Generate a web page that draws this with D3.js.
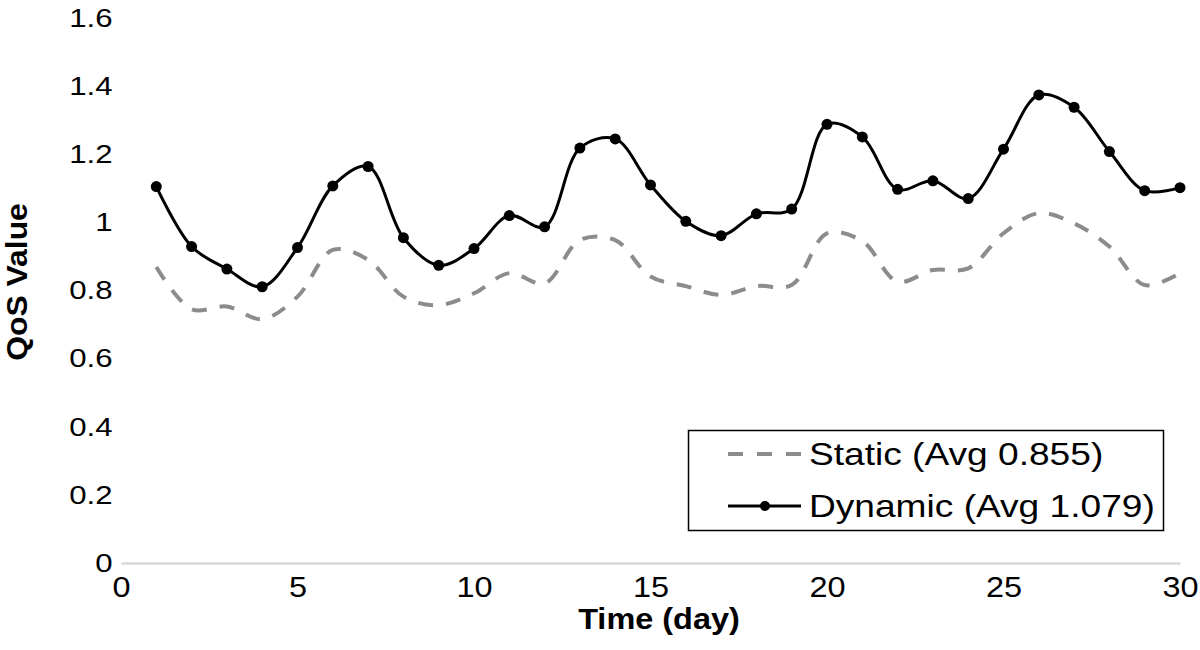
<!DOCTYPE html>
<html><head><meta charset="utf-8">
<script src="https://cdn.jsdelivr.net/npm/d3@7"></script>
<style>body{margin:0;background:#fff}svg{display:block}</style>
</head><body>
<svg id="c" width="1200" height="650"></svg>
<script>
const days = d3.range(1, 31);
const staticVals = [0.869,0.745,0.753,0.716,0.782,0.919,0.890,0.782,0.757,0.792,
  0.851,0.821,0.948,0.948,0.841,0.813,0.787,0.813,0.816,0.968,
  0.945,0.826,0.860,0.865,0.968,1.027,0.997,0.929,0.816,0.851];
const dynamicVals = [1.105,0.929,0.863,0.811,0.926,1.107,1.164,0.955,0.874,0.923,
  1.020,0.987,1.218,1.245,1.110,1.003,0.961,1.025,1.039,1.288,
  1.251,1.097,1.122,1.070,1.215,1.374,1.338,1.208,1.093,1.102];
const xTicks = [0,5,10,15,20,25,30];
const yTicks = [0,0.2,0.4,0.6,0.8,1,1.2,1.4,1.6];
const legendLabels = ["Static (Avg 0.855)", "Dynamic (Avg 1.079)"];

const svg = d3.select("#c");
const font = "'Liberation Sans', Arial, Helvetica, sans-serif";
const x = d3.scaleLinear().domain([0,30]).range([121,1180]);
const y = d3.scaleLinear().domain([0,1.6]).range([563,18]);

// x axis
const xa = svg.append("g").attr("transform","translate(0,563)")
  .call(d3.axisBottom(x).tickValues(xTicks).tickSize(0).tickPadding(13).tickFormat(d3.format("d")));
xa.select(".domain").attr("stroke","#d9d9d9").attr("stroke-width",2.5);
xa.selectAll("text").attr("font-family",font).attr("font-size",29).attr("fill","#000")
  .attr("transform","scale(1.12,1)");
// y axis
const ya = svg.append("g").attr("transform","translate(121,0)")
  .call(d3.axisLeft(y).tickValues(yTicks).tickSize(0).tickPadding(7).tickFormat(d => String(+d.toFixed(1))));
ya.select(".domain").remove();
ya.selectAll("text").attr("font-family",font).attr("font-size",26).attr("fill","#000")
  .attr("transform","scale(1.2,1)");

// titles
svg.append("text").attr("transform","translate(659,629) scale(1.12,1)").attr("text-anchor","middle")
  .attr("font-family",font).attr("font-weight","bold").attr("font-size",29).text("Time (day)");
svg.append("text").attr("transform","translate(27,282) rotate(-90) scale(1.1,1)").attr("text-anchor","middle")
  .attr("font-family",font).attr("font-weight","bold").attr("font-size",29).text("QoS Value");

const line = d3.line().x((d,i)=>x(days[i])).y(d=>y(d)).curve(d3.curveCatmullRom.alpha(0.5));
svg.append("path").datum(staticVals).attr("d",line).attr("fill","none")
  .attr("stroke","#8c8c8c").attr("stroke-width",4).attr("stroke-dasharray","15,13");
svg.append("path").datum(dynamicVals).attr("d",line).attr("fill","none")
  .attr("stroke","#000").attr("stroke-width",3);
svg.append("g").selectAll("circle").data(dynamicVals).join("circle")
  .attr("cx",(d,i)=>x(days[i])).attr("cy",d=>y(d)).attr("r",5.5).attr("fill","#000");

// legend
const lg = svg.append("g");
lg.append("rect").attr("x",688.5).attr("y",430.5).attr("width",475).attr("height",100)
  .attr("fill","#fff").attr("stroke","#000").attr("stroke-width",1.5);
lg.append("line").attr("x1",728).attr("x2",802).attr("y1",454).attr("y2",454)
  .attr("stroke","#8c8c8c").attr("stroke-width",4).attr("stroke-dasharray","15,14");
lg.append("line").attr("x1",728).attr("x2",801).attr("y1",506).attr("y2",506)
  .attr("stroke","#000").attr("stroke-width",3);
lg.append("circle").attr("cx",765).attr("cy",506).attr("r",5).attr("fill","#000");
lg.selectAll("text.l").data(legendLabels).join("text").attr("class","l")
  .attr("transform",(d,i)=>`translate(809,${465+i*52}) scale(1.16,1)`)
  .attr("font-family",font).attr("font-size",32)
  .attr("fill","#000").text(d=>d);
</script>
</body></html>
